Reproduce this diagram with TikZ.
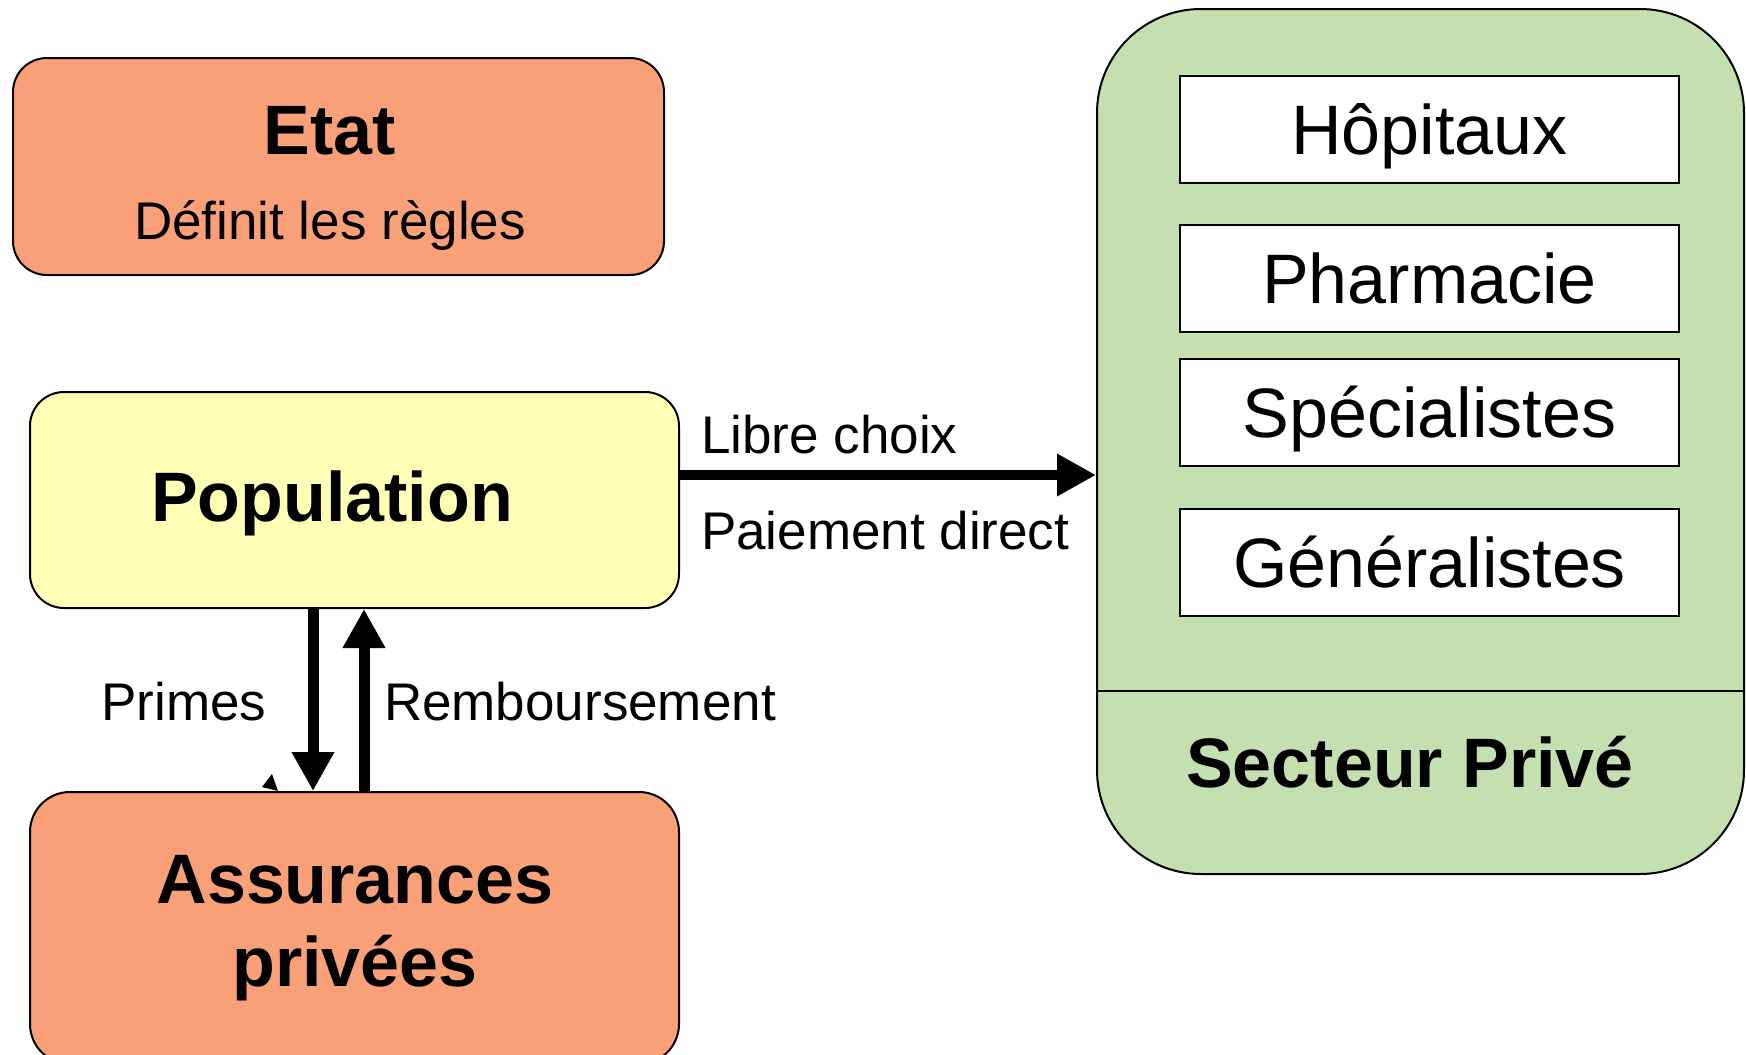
\documentclass[tikz,border=0pt]{standalone}
\usepackage{fontspec}
\setmainfont{Liberation Sans}
\usetikzlibrary{arrows.meta}
\definecolor{salmon}{HTML}{F9A078}
\definecolor{paleyellow}{HTML}{FFFFB6}
\definecolor{sagegreen}{HTML}{C4E0B0}
\tikzset{
  bigtxt/.style={font=\fontsize{35}{40}\selectfont},
  bigbold/.style={font=\fontsize{35}{40}\selectfont\bfseries},
  lbltxt/.style={font=\fontsize{26.5}{30}\selectfont},
  roundbox/.style={draw=black, line width=1pt, rounded corners=17pt, inner sep=0pt},
  whitebox/.style={draw=black, line width=1pt, fill=white, inner sep=0pt,
                   text height=25pt, text depth=0pt,
                   minimum width=249.5pt, minimum height=53.5pt},
  flow/.style={line width=5.5pt, -{Triangle[length=19.5pt,width=20pt]}},
}
\begin{document}
\begin{tikzpicture}[x=0.5pt,y=-0.5pt]
\useasboundingbox (0,0) rectangle (1746,1055);
\clip (0,0) rectangle (1746,1055);

% Etat
\node[roundbox, fill=salmon, minimum width=325.5pt, minimum height=108.5pt]
  (etat) at (338.5,166.5) {};
\node[bigbold] (etatT) at (330,131) {Etat};
\node[lbltxt] (etatS) at (330,225) {Définit les règles};

% Population
\node[roundbox, fill=paleyellow, minimum width=324.5pt, minimum height=108pt]
  (pop) at (354.5,500) {};
\node[bigbold] (popT) at (332,503) {Population};

% Assurances privées (runs past the lower edge)
\node[roundbox, fill=salmon, rounded corners=20pt, minimum width=324.5pt, minimum height=136pt]
  (ass) at (354.5,928) {};
\node[bigbold] (assT1) at (355,880) {Assurances};
\node[bigbold] (assT2) at (355,968) {privées};

% Secteur privé container
\node[roundbox, fill=sagegreen, rounded corners=52pt, minimum width=323.5pt, minimum height=432.5pt]
  (sect) at (1420.5,441.5) {};
\draw[line width=1pt] (sect.west |- 0,691) -- (sect.east |- 0,691);
\node[bigbold] (sectT) at (1410,762) {Secteur Privé};

% Providers
\node[whitebox, bigtxt] (hop) at (1429.5,129.5) {Hôpitaux};
\node[whitebox, bigtxt] (pha) at (1429.5,278.5) {Pharmacie};
\node[whitebox, bigtxt] (spe) at (1429.5,412) {Spécialistes};
\node[whitebox, bigtxt] (gen) at (1429.5,562.5) {Généralistes};

% Flows
\draw[flow, line width=5pt] (pop.east |- 0,475) -- (sect.west |- 0,475);
\node[lbltxt, anchor=west] (libre) at (694,435) {Libre choix};
\node[lbltxt, anchor=west] (paie) at (694,531) {Paiement direct};

\draw[flow] (pop.south -| 313,0) -- (ass.north -| 313,0);
\draw[flow] (ass.north -| 364,0) -- (pop.south -| 364,0);
\node[lbltxt] (primes) at (184,702) {Primes};
\node[lbltxt, anchor=west] (remb) at (377,702) {Remboursement};

% small tip fragment above the insurers box
\fill (262,787) -- (272,774) -- (278,791) -- cycle;
\end{tikzpicture}
\end{document}
